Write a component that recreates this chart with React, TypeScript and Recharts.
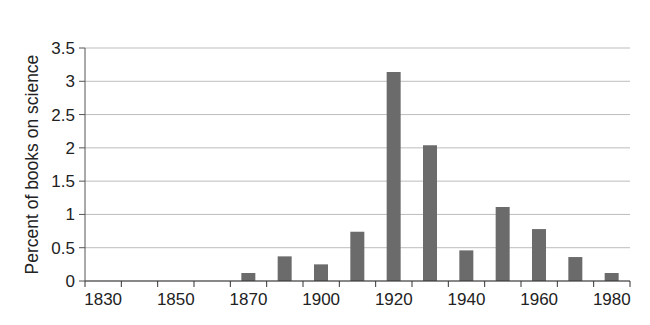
import { Bar, BarChart, CartesianGrid, XAxis, YAxis } from "recharts";

const decades = ["1830", "1840", "1850", "1860", "1870", "1880", "1900", "1910", "1920", "1930", "1940", "1950", "1960", "1970", "1980"];
const percentScience = [0, 0, 0, 0, 0.12, 0.37, 0.25, 0.74, 3.14, 2.04, 0.46, 1.11, 0.78, 0.36, 0.12];
const yTicks = [0, 0.5, 1, 1.5, 2, 2.5, 3, 3.5];

const data = decades.map((d, i) => ({ decade: d, value: percentScience[i] }));

const W = 650;
const H = 325;
const LEFT = 85;
const RIGHT = 20;
const HALF_BAND = (W - LEFT - RIGHT) / decades.length / 2;
const FONT = "'Liberation Sans', Arial, sans-serif";

// ticks sit on category boundaries, labels on every other category
function DecadeTick(props: any) {
  const { x, y, payload, index } = props;
  const top = y - 6;
  return (
    <g>
      <line x1={x - HALF_BAND} x2={x - HALF_BAND} y1={top} y2={top + 6} stroke="#333" />
      {index === decades.length - 1 && (
        <line x1={x + HALF_BAND} x2={x + HALF_BAND} y1={top} y2={top + 6} stroke="#333" />
      )}
      {index % 2 === 0 && (
        <text x={x} y={top + 24} textAnchor="middle" fill="#222" fontSize={17} fontFamily={FONT}>
          {payload.value}
        </text>
      )}
    </g>
  );
}

export default function App() {
  return (
    <div style={{ position: "absolute", left: 0, top: 0, background: "#fff" }}>
      <BarChart width={W} height={H} data={data} margin={{ top: 48, right: RIGHT, bottom: 0, left: 0 }}>
        <CartesianGrid vertical={false} stroke="#bdbdbd" />
        <XAxis
          dataKey="decade"
          interval={0}
          height={44}
          tickLine={false}
          tickSize={6}
          tickMargin={0}
          axisLine={{ stroke: "#333" }}
          tick={<DecadeTick />}
        />
        <YAxis
          width={LEFT}
          domain={[0, 3.5]}
          ticks={yTicks}
          tickSize={6}
          tickMargin={4}
          axisLine={{ stroke: "#555" }}
          tickLine={{ stroke: "#555" }}
          tick={{ fill: "#222", fontSize: 17, fontFamily: FONT }}
          label={{
            value: "Percent of books on science",
            angle: -90,
            position: "insideLeft",
            dx: 27,
            dy: 110,
            fill: "#222",
            fontSize: 17.5,
            fontFamily: FONT,
          }}
        />
        <Bar dataKey="value" fill="#6b6b6b" barSize={14} isAnimationActive={false} />
      </BarChart>
    </div>
  );
}
